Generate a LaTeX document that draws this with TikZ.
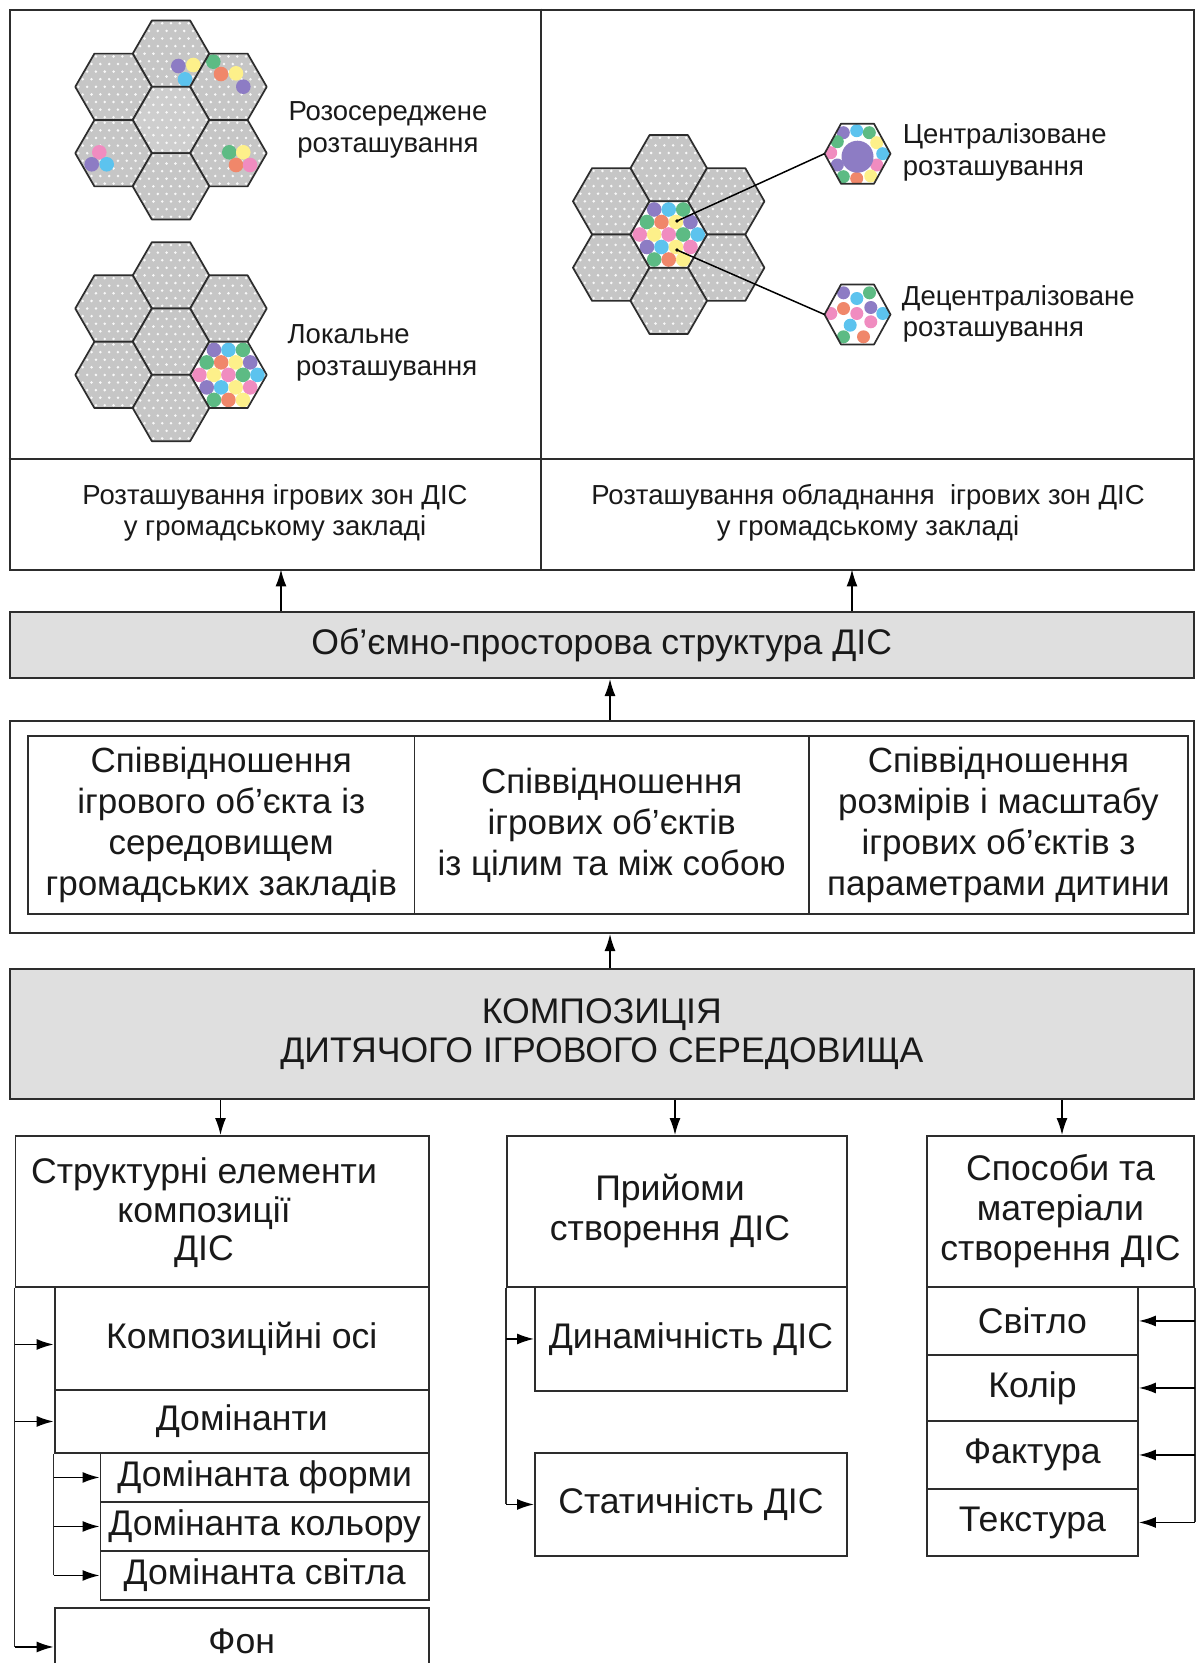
\documentclass[tikz,border=0pt]{standalone}
\usepackage{fontspec}
\setmainfont{Liberation Sans}
\usetikzlibrary{arrows.meta}

\definecolor{hexgrey}{RGB}{198,198,198}
\definecolor{hexlight}{RGB}{206,206,206}
\definecolor{boxgrey}{RGB}{223,223,223}
\definecolor{linegrey}{RGB}{45,45,45}
\definecolor{inkgrey}{RGB}{25,25,25}
\definecolor{cpurple}{RGB}{141,124,196}
\definecolor{cblue}{RGB}{92,195,238}
\definecolor{cgreen}{RGB}{93,187,132}
\definecolor{corange}{RGB}{240,135,106}
\definecolor{cyellow}{RGB}{253,240,138}
\definecolor{cpink}{RGB}{240,140,192}

\newcommand\fontHead{\fontsize{35.6}{38.5}\selectfont}
\newcommand\fontRel{\fontsize{35}{41}\selectfont}
\newcommand\fontBox{\fontsize{35.6}{40}\selectfont}
\newcommand\fontLabel{\fontsize{27.5}{30.5}\selectfont}
\newcommand\fontNote{\fontsize{27.5}{32}\selectfont}

\tikzset{
  frame/.style={draw=linegrey, line width=2},
  cellbox/.style={draw=linegrey, line width=1.9, inner sep=0, anchor=north west, align=center,
                  text=inkgrey, font=\fontBox},
  greybox/.style={cellbox, fill=boxgrey, line width=2},
  trunk/.style={draw=linegrey, line width=1.6},
  link/.style={draw=black, line width=1.5, -{Latex[length=17pt,width=11pt]}},
  hexline/.style={draw=linegrey, line width=1.7, line join=round},
  note/.style={inner sep=0, text=inkgrey, font=\fontNote},
  pin/.style={draw=black, line width=1.5},
}

% one honeycomb cell: centre (#2,#3); #4 is drawn clipped inside the cell
\newcommand\hexcell[4][hexgrey]{%
  \begin{scope}[shift={(#2,#3)}]
    \begin{scope}
      \clip (38.3,0) -- (19.15,33.17) -- (-19.15,33.17) -- (-38.3,0)
            -- (-19.15,-33.17) -- (19.15,-33.17) -- cycle;
      \fill[#1] (-40,-35) rectangle (40,35);
      \foreach \hr in {-4,...,4}{%
        \foreach \hc in {-5,...,4}{%
          \fill[white,opacity=.9] ({(\hc+0.5*abs(mod(\hr,2)))*8.8},{\hr*7.6}) circle (1.4);}}
      #4
    \end{scope}
    \draw[hexline] (38.3,0) -- (19.15,33.17) -- (-19.15,33.17) -- (-38.3,0)
          -- (-19.15,-33.17) -- (19.15,-33.17) -- cycle;
  \end{scope}}

\newcommand\spot[3]{\fill[#1] (#2,#3) circle (7.3);}

% a cell packed with play equipment
\newcommand\fullspots{%
  \fill[white] (-40,-35) rectangle (40,35);
  \spot{cpurple}{-14.5}{-25}\spot{cblue}{0}{-25}\spot{cgreen}{14.5}{-25}
  \spot{cgreen}{-21.75}{-12.5}\spot{corange}{-7.25}{-12.5}\spot{cyellow}{7.25}{-12.5}\spot{cpurple}{21.75}{-12.5}
  \spot{cpink}{-29}{0}\spot{cyellow}{-14.5}{0}\spot{cpink}{0}{0}\spot{cgreen}{14.5}{0}\spot{cblue}{29}{0}
  \spot{cpurple}{-21.75}{12.5}\spot{cblue}{-7.25}{12.5}\spot{cyellow}{7.25}{12.5}\spot{cpink}{21.75}{12.5}
  \spot{cgreen}{-14.5}{25}\spot{corange}{0}{25}\spot{cyellow}{14.5}{25}}

\newcommand\smallspot[3]{\fill[#1] (#2,#3) circle (6.5);}

\begin{document}
\begin{tikzpicture}[x=1pt,y=-1pt]
\useasboundingbox (0,0) rectangle (1201,1663);
\clip (0,0) rectangle (1201,1663);
\fill[white] (0,0) rectangle (1201,1663);

% ---------- upper panel: honeycomb schemes ----------
% scattered zones
\hexcell{171}{53.7}{\spot{cpurple}{7.3}{12.3}\spot{cyellow}{22.3}{11.3}\spot{cblue}{14}{25.6}}
\hexcell{113.55}{86.8}{}
\hexcell{228.45}{86.8}{\spot{cgreen}{-15.15}{-25.1}\spot{corange}{-7.45}{-12.8}\spot{cyellow}{7.55}{-13.5}\spot{cpurple}{14.85}{-0.1}}
\hexcell[hexlight]{171}{120}{}
\hexcell{113.55}{153.2}{\spot{cpink}{-14.25}{-0.9}\spot{cpurple}{-21.85}{11.1}\spot{cblue}{-6.85}{11.1}}
\hexcell{228.45}{153.2}{\spot{cgreen}{0.85}{-0.9}\spot{cyellow}{14.85}{-0.9}\spot{corange}{7.55}{11.8}\spot{cpink}{21.55}{11.8}}
\hexcell{171}{186.3}{}

% local zone
\hexcell{171}{275.4}{}
\hexcell{113.55}{308.5}{}
\hexcell{228.45}{308.5}{}
\hexcell{171}{341.7}{}
\hexcell{113.55}{374.9}{}
\hexcell{228.45}{374.9}{\fullspots}
\hexcell{171}{408}{}

% equipment inside a zone
\hexcell{668.7}{168.2}{}
\hexcell{611.25}{201.3}{}
\hexcell{726.15}{201.3}{}
\hexcell{611.25}{267.7}{}
\hexcell{726.15}{267.7}{}
\hexcell{668.7}{300.8}{}
\hexcell{668.7}{234.5}{\fullspots}

% centralised arrangement
\begin{scope}[shift={(857.5,153.7)}]
  \begin{scope}
    \clip (33,0) -- (16.5,30) -- (-16.5,30) -- (-33,0) -- (-16.5,-30) -- (16.5,-30) -- cycle;
    \fill[white] (-34,-31) rectangle (34,31);
    \smallspot{cpurple}{-14.2}{-21}\smallspot{cblue}{-0.8}{-23}\smallspot{cgreen}{11.8}{-21}
    \smallspot{cyellow}{19.2}{-11}\smallspot{cblue}{25.2}{0}\smallspot{cpink}{19.2}{11.3}
    \smallspot{cyellow}{13.2}{22.3}\smallspot{corange}{-0.8}{24.7}\smallspot{cgreen}{-14.2}{23}
    \smallspot{cpurple}{-20.2}{11.3}\smallspot{cpink}{-26.8}{-1}\smallspot{cgreen}{-20.2}{-12}
    \fill[cpurple] (0,3) circle (16);
  \end{scope}
  \draw[hexline] (33,0) -- (16.5,30) -- (-16.5,30) -- (-33,0) -- (-16.5,-30) -- (16.5,-30) -- cycle;
\end{scope}

% decentralised arrangement
\begin{scope}[shift={(857.5,314.5)}]
  \begin{scope}
    \clip (33,0) -- (16.5,30) -- (-16.5,30) -- (-33,0) -- (-16.5,-30) -- (16.5,-30) -- cycle;
    \fill[white] (-34,-31) rectangle (34,31);
    \smallspot{cpurple}{-14}{-21.7}\smallspot{cgreen}{12}{-21.7}\smallspot{cblue}{-0.7}{-16}
    \smallspot{corange}{-14}{-6}\smallspot{cpurple}{13.3}{-7}\smallspot{cpink}{-26.7}{-1}
    \smallspot{cpink}{-0.7}{-1}\smallspot{cblue}{25.3}{-1}\smallspot{cpink}{13.3}{7.3}
    \smallspot{cblue}{-7.3}{10.7}\smallspot{cgreen}{-14}{22.3}\smallspot{corange}{6}{22.3}
  \end{scope}
  \draw[hexline] (33,0) -- (16.5,30) -- (-16.5,30) -- (-33,0) -- (-16.5,-30) -- (16.5,-30) -- cycle;
\end{scope}

\coordinate (centTip) at (824.5,153.7);
\coordinate (decentTip) at (824.5,314.5);
\coordinate (hubA) at (677,221);
\coordinate (hubB) at (677,250);
\draw[pin] (centTip) -- (hubA);
\draw[pin] (decentTip) -- (hubB);
\fill (hubA) circle (1.8);
\fill (hubB) circle (1.8);

% captions of the schemes
\node[note, anchor=base] (dispA) at (388,120.7) {Розосереджене};
\node[note, anchor=base] (dispB) at (388,152.7) {розташування};
\node[note, anchor=base west] (locA) at (287.5,343.3) {Локальне};
\node[note, anchor=base west] (locB) at (296,375) {розташування};
\node[note, anchor=base west] (centA) at (902.6,143.3) {Централізоване};
\node[note, anchor=base west] (centB) at (902.6,175) {розташування};
\node[note, anchor=base west] (decA) at (901.7,305) {Децентралізоване};
\node[note, anchor=base west] (decB) at (902.6,336.7) {розташування};

% frame of the upper panel
\node[frame, inner sep=0, minimum width=1184.5, minimum height=560.5, anchor=north west] (topframe) at (8.5,8.5) {};
\draw[frame] (8.5,459) -- (1193,459);
\draw[frame] (541,8.5) -- (541,569);
\node[inner sep=0, minimum width=532.5, minimum height=110, anchor=north west] (cellA) at (8.5,459) {};
\node[inner sep=0, minimum width=652, minimum height=110, anchor=north west] (cellB) at (541,459) {};
\node[note, font=\fontLabel, align=center] (zonesA) at (275,513) {Розташування ігрових зон ДІС\\у громадському закладі};
\node[note, font=\fontLabel, align=center] (zonesB) at (868,513) {Розташування обладнання\ \ ігрових зон ДІС\\у громадському закладі};

% ---------- volume-spatial structure ----------
\node[greybox, minimum width=1184.5, minimum height=66] (vol) at (8.5,611) {Об’ємно-просторова структура ДІС};
\coordinate (xA) at (281,0);
\coordinate (xB) at (852,0);
\coordinate (xC) at (610,0);
\draw[link] (vol.north -| xA) -- (cellA.south -| xA);
\draw[link] (vol.north -| xB) -- (cellB.south -| xB);

% ---------- relations ----------
\node[cellbox, line width=2, minimum width=1184, minimum height=212] (rel) at (9,720) {};
\node[cellbox, font=\fontRel, minimum width=386.5, minimum height=178] (relA) at (27,735)
  {Співвідношення\\ігрового об’єкта із\\середовищем\\громадських закладів};
\node[cellbox, font=\fontRel, minimum width=394.5, minimum height=178] (relB) at (413.5,735)
  {Співвідношення\\ігрових об’єктів\\із цілим та між собою};
\node[cellbox, font=\fontRel, minimum width=379, minimum height=178] (relC) at (808,735)
  {Співвідношення\\розмірів і масштабу\\ігрових об’єктів з\\параметрами дитини};
\draw[link] (rel.north -| xC) -- (vol.south -| xC);

% ---------- composition ----------
\node[greybox, font=\fontHead, minimum width=1184.5, minimum height=130] (comp) at (8.5,968)
  {КОМПОЗИЦІЯ\\ДИТЯЧОГО ІГРОВОГО СЕРЕДОВИЩА};
\draw[link] (comp.north -| xC) -- (rel.south -| xC);

% ---------- three branches ----------
\node[cellbox, minimum width=413.5, minimum height=151] (struct) at (14.5,1135) {};
\node[note, font=\fontHead, align=center] (structT) at (204,1213) {Структурні елементи\\композиції\\ДІС};
\node[cellbox, minimum width=340, minimum height=151] (meth) at (506,1135) {};
\node[note, font=\fontBox, align=center] (methT) at (670,1210.5) {Прийоми\\створення ДІС};
\node[cellbox, minimum width=267, minimum height=151] (mat) at (926,1135)
  {Способи та\\матеріали\\створення ДІС};

\coordinate (xL) at (220.5,0);
\coordinate (xM) at (675,0);
\coordinate (xR) at (1062,0);
\draw[link] (comp.south -| xL) -- (struct.north -| xL);
\draw[link] (comp.south -| xM) -- (meth.north -| xM);
\draw[link] (comp.south -| xR) -- (mat.north -| xR);

% structural elements
\node[cellbox, minimum width=374.4, minimum height=103] (axes) at (53.6,1286) {Композиційні осі};
\node[cellbox, minimum width=374.4, minimum height=63] (dom) at (53.6,1389) {Домінанти};
\node[cellbox, minimum width=328.5, minimum height=49] (domF) at (99.5,1452) {Домінанта форми};
\node[cellbox, minimum width=328.5, minimum height=49] (domK) at (99.5,1501) {Домінанта кольору};
\node[cellbox, minimum width=328.5, minimum height=49] (domS) at (99.5,1550) {Домінанта світла};
\node[cellbox, minimum width=374.4, minimum height=66] (fon) at (53.6,1607) {Фон};

\draw[trunk] (struct.south west) -- ([yshift=-6]struct.south west |- fon.west);
\draw[link] ([yshift=-6]struct.south west |- axes.west) -- ([yshift=-6]axes.west);
\draw[link] (struct.south west |- dom.west) -- (dom.west);
\draw[link] ([yshift=-6]struct.south west |- fon.west) -- ([yshift=-6]fon.west);
\draw[trunk] (dom.south west) -- (dom.south west |- domS.west);
\draw[link] (dom.south west |- domF.west) -- (domF.west);
\draw[link] (dom.south west |- domK.west) -- (domK.west);
\draw[link] (dom.south west |- domS.west) -- (domS.west);

% techniques
\node[cellbox, minimum width=312, minimum height=104] (dyn) at (534,1286) {Динамічність ДІС};
\node[cellbox, minimum width=312, minimum height=103] (stat) at (534,1452) {Статичність ДІС};
\draw[trunk] (meth.south west) -- (meth.south west |- stat.west);
\draw[link] (meth.south west |- dyn.west) -- (dyn.west);
\draw[link] (meth.south west |- stat.west) -- (stat.west);

% means and materials
\node[cellbox, minimum width=211, minimum height=68] (light) at (926,1286) {Світло};
\node[cellbox, minimum width=211, minimum height=66] (colour) at (926,1354) {Колір};
\node[cellbox, minimum width=211, minimum height=68] (facture) at (926,1420) {Фактура};
\node[cellbox, minimum width=211, minimum height=67] (texture) at (926,1488) {Текстура};
\draw[trunk] (mat.south east) -- (mat.south east |- texture.east);
\draw[link] (mat.south east |- light.east) -- (light.east);
\draw[link] (mat.south east |- colour.east) -- (colour.east);
\draw[link] (mat.south east |- facture.east) -- (facture.east);
\draw[link] (mat.south east |- texture.east) -- (texture.east);
\end{tikzpicture}
\end{document}
